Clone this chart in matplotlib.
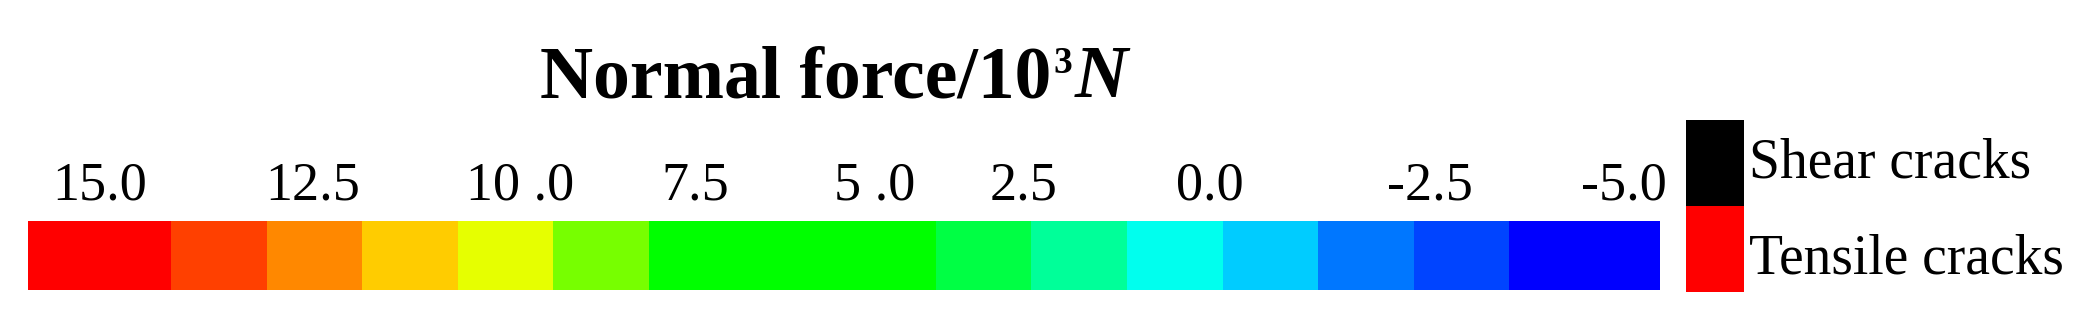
import numpy as np
import matplotlib
matplotlib.use('Agg')
import matplotlib.pyplot as plt
import matplotlib.transforms as mtransforms

plt.rcParams['font.family'] = ['Liberation Serif', 'DejaVu Serif']

# colour bar segments (width in units of one colour step)
seg_widths = [1.5, 1, 1, 1, 1, 1, 3, 1, 1, 1, 1, 1, 1, 1.57]
seg_colors = ['#ff0000', '#ff4000', '#ff8800', '#ffcc00', '#e6ff00', '#77ff00',
              '#00ff00', '#00ff44', '#00ff99', '#00ffee', '#00ccff', '#0077ff',
              '#0044ff', '#0000ff']

# labels above the bar and where they sit along it
tick_labels = ['15.0', '12.5', '10 .0', '7.5', '5 .0', '2.5', '0.0', '-2.5', '-5.0']
tick_pos = [0.75, 2.98, 5.15, 6.98, 8.86, 10.42, 12.37, 14.67, 16.70]

crack_labels = ['Shear cracks', 'Tensile cracks']
crack_colors = ['#000000', '#ff0000']

W, H = 2092, 325
fig = plt.figure(figsize=(W / 100, H / 100), dpi=100)

# main bar
ax = fig.add_axes([27.7 / W, 1 - 290 / H, (1659.5 - 27.7) / W, 69 / H])
lefts = np.concatenate([[0], np.cumsum(seg_widths)[:-1]])
ax.barh(0, seg_widths, left=lefts, height=1, color=seg_colors, linewidth=0)
ax.set_xlim(0, sum(seg_widths))
ax.set_ylim(-0.5, 0.5)
ax.axis('off')

trans = mtransforms.blended_transform_factory(ax.transData, fig.transFigure)
for lab, p in zip(tick_labels, tick_pos):
    fig.text(p, 1 - 200 / H, lab, transform=trans, ha='center', va='baseline',
             fontsize=39)

# title, built in pieces so the superscript sits like the original
renderer = fig.canvas.get_renderer()
t1 = fig.text(540 / W, 1 - 97 / H, 'Normal force/10', ha='left', va='baseline',
              fontsize=53, fontweight='bold')
x1 = t1.get_window_extent(renderer).x1
t2 = fig.text(x1 / W + 2 / W, 1 - 73 / H, '3', ha='left', va='baseline',
              fontsize=27, fontweight='bold')
x2 = t2.get_window_extent(renderer).x1
fig.text(x2 / W + 3 / W, 1 - 97 / H, 'N', ha='left', va='baseline',
         fontsize=53, fontweight='bold', fontstyle='italic')

# crack legend
ax2 = fig.add_axes([1686 / W, 1 - 292 / H, 58 / W, 172 / H])
ax2.bar(0, [1, 1], bottom=[1, 0], width=1, color=crack_colors, linewidth=0)
ax2.set_xlim(-0.5, 0.5)
ax2.set_ylim(0, 2)
ax2.axis('off')

for lab, yb in zip(crack_labels, [177, 273]):
    fig.text(1749 / W, 1 - yb / H, lab, ha='left', va='baseline', fontsize=40)

fig.savefig('out.png', dpi=100)
